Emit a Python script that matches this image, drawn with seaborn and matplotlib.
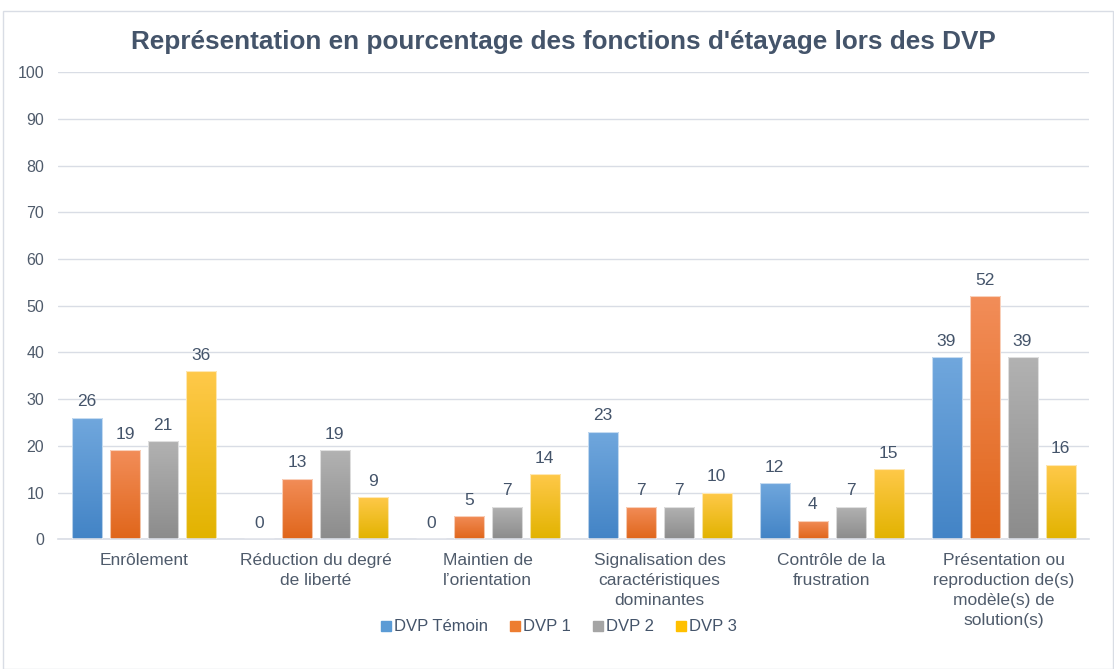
import numpy as np
import pandas as pd
import seaborn as sns
import matplotlib.pyplot as plt
from matplotlib.colors import LinearSegmentedColormap
from matplotlib.lines import Line2D
from matplotlib.patches import Rectangle

categories = [
    "Enrôlement",
    "Réduction du degré\nde liberté",
    "Maintien de\nl\u2019orientation",
    "Signalisation des\ncaractéristiques\ndominantes",
    "Contrôle de la\nfrustration",
    "Présentation ou\nreproduction de(s)\nmodèle(s) de\nsolution(s)",
]
series = ["DVP Témoin", "DVP 1", "DVP 2", "DVP 3"]
temoin = [26, 0, 0, 23, 12, 39]
dvp1 = [19, 13, 5, 7, 4, 52]
dvp2 = [21, 19, 7, 7, 7, 39]
dvp3 = [36, 9, 14, 10, 15, 16]

colors = ["#5B9BD5", "#ED7D31", "#A5A5A5", "#FFC000"]
# gradient: (bottom, top)
grads = [("#4384C6", "#70A7DD"), ("#E0661B", "#F28D58"),
         ("#8C8C8C", "#B2B2B2"), ("#E2B300", "#FFC94A")]
text_col = "#44546A"
tick_col = "#4F5B6B"
line_col = "#D9DDE5"

df = pd.DataFrame({
    "cat": categories * 4,
    "serie": np.repeat(series, len(categories)),
    "val": temoin + dvp1 + dvp2 + dvp3,
})

sns.set_theme(style="white")
plt.rcParams["font.family"] = ["Liberation Sans", "DejaVu Sans"]

fig = plt.figure(figsize=(11.14, 6.69), dpi=100)
ax = fig.add_axes([0.052, 0.194, 0.926, 0.698])

sns.barplot(data=df, x="cat", y="val", hue="serie", palette=colors,
            width=0.884, gap=0.21, legend=False, ax=ax, zorder=3)

# gradient fill, like the office chart
for cont, (c0, c1) in zip(ax.containers, grads):
    cmap = LinearSegmentedColormap.from_list("g", [c0, c1])
    for p in cont:
        x, w, h = p.get_x(), p.get_width(), p.get_height()
        if h <= 0:
            continue
        p.set_facecolor("none")
        p.set_edgecolor((1, 1, 1, 0.6))
        p.set_linewidth(0.8)
        im = ax.imshow(np.linspace(0, 1, 64).reshape(-1, 1), cmap=cmap,
                       origin="lower", extent=[x, x + w, 0, h],
                       aspect="auto", zorder=2)
        im.set_clip_path(p)
    ax.bar_label(cont, fmt="%d", padding=6, fontsize=12.5, color=text_col)

ax.set_xlim(-0.5, len(categories) - 0.5)
ax.set_ylim(0, 100)
ax.set_yticks(range(0, 101, 10))
ax.yaxis.grid(True, color=line_col, linewidth=1)
ax.set_axisbelow(True)
sns.despine(ax=ax, left=True, top=True, right=True)
ax.spines["bottom"].set_color(line_col)
ax.spines["bottom"].set_linewidth(1.2)
ax.tick_params(axis="both", length=0, labelsize=11.5, labelcolor=tick_col)
ax.tick_params(axis="y", pad=10)
ax.tick_params(axis="x", pad=10)
for lab in ax.get_xticklabels():
    lab.set_fontsize(12.5)
    lab.set_linespacing(1.42)
ax.set_xlabel("")
ax.set_ylabel("")

fig.text(0.506, 0.937, "Représentation en pourcentage des fonctions d'étayage lors des DVP",
         ha="center", va="center", fontsize=18.8, fontweight="bold", color=text_col)

handles = [Line2D([], [], marker="s", linestyle="", markersize=7,
                  markerfacecolor=c, markeredgecolor=c) for c in colors]
fig.legend(handles, series, loc="center", bbox_to_anchor=(0.5, 0.063), ncol=4,
           frameon=False, fontsize=12, handletextpad=0.0, columnspacing=1.1,
           labelcolor=text_col, handlelength=1.0)

fig.patches.append(Rectangle((0.003, 0.0), 0.996, 0.983, transform=fig.transFigure,
                             fill=False, edgecolor=line_col, linewidth=1))

fig.savefig("out.png", dpi=100)
